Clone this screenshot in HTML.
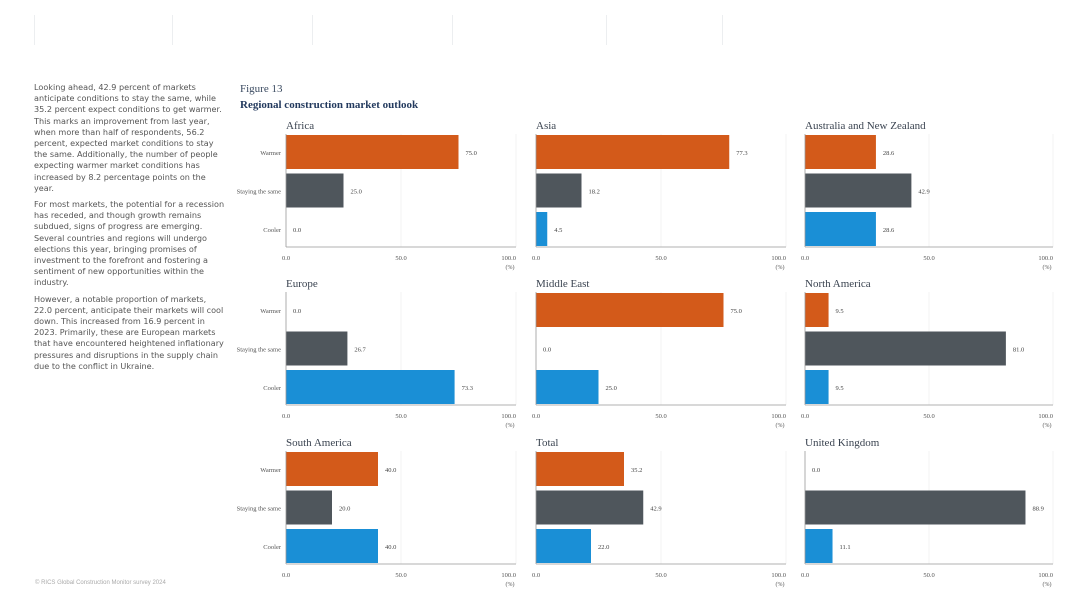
<!DOCTYPE html>
<html><head><meta charset="utf-8"><style>
body{margin:0;width:1080px;height:603px;background:#fff;position:relative;overflow:hidden;font-family:"Liberation Sans",sans-serif}
.vl{position:absolute;top:15px;width:1px;height:30px;background:#eceef0}
#para{position:absolute;left:34px;top:82px;width:192px;font-family:"DejaVu Sans",sans-serif;font-size:8.1px;line-height:11.2px;color:#555}
#para p{margin:0 0 5px 0}
.serif{font-family:"Liberation Serif",serif}
</style></head><body>
<div class="vl" style="left:34px"></div>
<div class="vl" style="left:172px"></div>
<div class="vl" style="left:312px"></div>
<div class="vl" style="left:452px"></div>
<div class="vl" style="left:606px"></div>
<div class="vl" style="left:722px"></div>
<div id="para">
<p>Looking ahead, 42.9 percent of markets anticipate conditions to stay the same, while 35.2 percent expect conditions to get warmer. This marks an improvement from last year, when more than half of respondents, 56.2 percent, expected market conditions to stay the same. Additionally, the number of people expecting warmer market conditions has increased by 8.2 percentage points on the year.</p>
<p>For most markets, the potential for a recession has receded, and though growth remains subdued, signs of progress are emerging. Several countries and regions will undergo elections this year, bringing promises of investment to the forefront and fostering a sentiment of new opportunities within the industry.</p>
<p>However, a notable proportion of markets, 22.0 percent, anticipate their markets will cool down. This increased from 16.9 percent in 2023. Primarily, these are European markets that have encountered heightened inflationary pressures and disruptions in the supply chain due to the conflict in Ukraine.</p>
</div>
<div class="serif" style="position:absolute;left:240px;top:83px;font-size:11px;color:#3a4a60">Figure 13</div>
<div class="serif" style="position:absolute;left:240px;top:99px;font-size:11px;font-weight:bold;color:#233a5e">Regional construction market outlook</div>
<div style="position:absolute;left:35px;top:580px;font-size:6px;color:#aaa">© RICS Global Construction Monitor survey 2024</div>
<svg id="c" width="1080" height="603" style="position:absolute;left:0;top:0"></svg>
<script>
const regions=["Africa","Asia","Australia and New Zealand","Europe","Middle East","North America","South America","Total","United Kingdom"];
const categories=["Warmer","Staying the same","Cooler"];
const warmer=[75.0,77.3,28.6,0.0,75.0,9.5,40.0,35.2,0.0];
const staying=[25.0,18.2,42.9,26.7,0.0,81.0,20.0,42.9,88.9];
const cooler=[0.0,4.5,28.6,73.3,25.0,9.5,40.0,22.0,11.1];
const ticks=[0,50,100];
const colors=["#d35a1a","#4f565c","#1a8fd6"];
const NS="http://www.w3.org/2000/svg";
const svg=document.getElementById('c');
const colX=[286,536,805], colW=[230,250,248], rowY=[118,276,435];
function mk(t,a,txt){const e=document.createElementNS(NS,t);for(const k in a)e.setAttribute(k,a[k]);if(txt!=null)e.textContent=txt;svg.appendChild(e);return e;}
regions.forEach((r,i)=>{
  const x0=colX[i%3], w=colW[i%3], top=rowY[Math.floor(i/3)];
  const sx=v=>x0+v/100*w;
  const t=mk('text',{x:x0,y:top+11,'font-family':'Liberation Serif,serif','font-size':11,fill:'#3a4350'},r);
  
  
  [50,100].forEach(v=>{mk('line',{x1:sx(v),x2:sx(v),y1:top+16,y2:top+129,stroke:'#f3f3f3'});});
  const vals=[warmer[i],staying[i],cooler[i]];
  vals.forEach((v,j)=>{
    const y=top+17+j*38.5;
    const b=mk('rect',{x:x0,y:y,width:sx(v)-x0,height:34,fill:colors[j]});
    
    
    const l=mk('text',{x:sx(v)+7,y:y+20,'font-family':'Liberation Serif,serif','font-size':6.5,fill:'#444'},v.toFixed(1));
    
    
    if(i%3===0){
      const c=mk('text',{x:x0-5,y:y+20,'text-anchor':'end','font-family':'Liberation Serif,serif','font-size':6.5,fill:'#555'},categories[j]);
      
      
    }
  });
  mk('line',{x1:x0,x2:x0,y1:top+16,y2:top+129,stroke:'#999','stroke-width':0.8});
  mk('line',{x1:x0,x2:x0+w,y1:top+129,y2:top+129,stroke:'#999','stroke-width':0.8});
  ticks.forEach(v=>{
    const tk=mk('text',{x:sx(v),y:top+142,'text-anchor':v===100?'end':'middle','font-family':'Liberation Serif,serif','font-size':6.5,fill:'#555'},v.toFixed(1));
    
    
  });
  mk('text',{x:sx(100)-6,y:top+151,'text-anchor':'middle','font-family':'Liberation Serif,serif','font-size':6,fill:'#555'},'(%)');
});
</script>
</body></html>
